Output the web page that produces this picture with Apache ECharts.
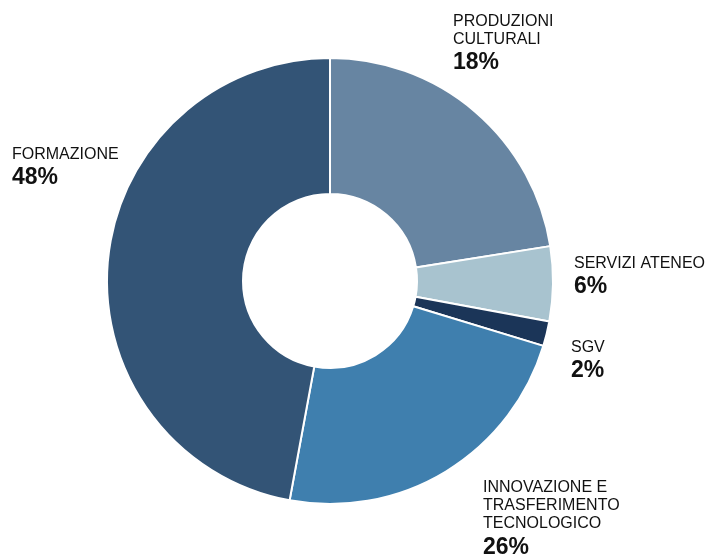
<!DOCTYPE html>
<html>
<head>
<meta charset="utf-8">
<script src="https://cdn.jsdelivr.net/npm/echarts@6/dist/echarts.min.js"></script>
<style>
html,body{margin:0;padding:0;background:#fff;}
#chart{width:707px;height:558px;}
</style>
</head>
<body>
<div id="chart"></div>
<script>
// Data
var categories = ['PRODUZIONI\nCULTURALI', 'SERVIZI ATENEO', 'SGV', 'INNOVAZIONE E\nTRASFERIMENTO\nTECNOLOGICO', 'FORMAZIONE'];
var values = [22.5, 5.4, 1.8, 23.2, 47.1];           // slice sizes as drawn
var percentLabels = ['18%', '6%', '2%', '26%', '48%']; // printed labels
var colors = ['#6785a2', '#a8c3cf', '#1b3558', '#3f7fae', '#335476'];
// label anchor (top-left) positions
var labelPos = [[453, 12], [574, 254], [571, 338], [483, 478], [12, 145]];

var chart = echarts.init(document.getElementById('chart'));
var data = categories.map(function (c, i) {
  return { name: c, value: values[i], itemStyle: { color: colors[i] } };
});
var FONT = '"Liberation Sans", Arial, sans-serif';
chart.setOption({
  animation: false,
  series: [{
    type: 'pie',
    center: [330, 281],
    radius: [87, 223],
    startAngle: 90,
    clockwise: true,
    data: data,
    itemStyle: { borderColor: '#ffffff', borderWidth: 2 },
    labelLine: { show: false },
    label: {
      show: true,
      position: 'outside',
      align: 'left',
      overflow: 'none',
      formatter: function (p) {
        var lines = categories[p.dataIndex].split('\n').map(function (l) { return '{n|' + l + '}'; });
        lines.push('{p|' + percentLabels[p.dataIndex] + '}');
        return lines.join('\n');
      },
      rich: {
        n: { fontFamily: FONT, fontSize: 16, color: '#111111', lineHeight: 18.3 },
        p: { fontFamily: FONT, fontSize: 23, fontWeight: 'bold', color: '#111111', lineHeight: 29 }
      }
    },
    labelLayout: function (params) {
      var pos = labelPos[params.dataIndex];
      return { x: pos[0], y: pos[1], align: 'left', verticalAlign: 'top' };
    }
  }]
});
</script>
</body>
</html>
